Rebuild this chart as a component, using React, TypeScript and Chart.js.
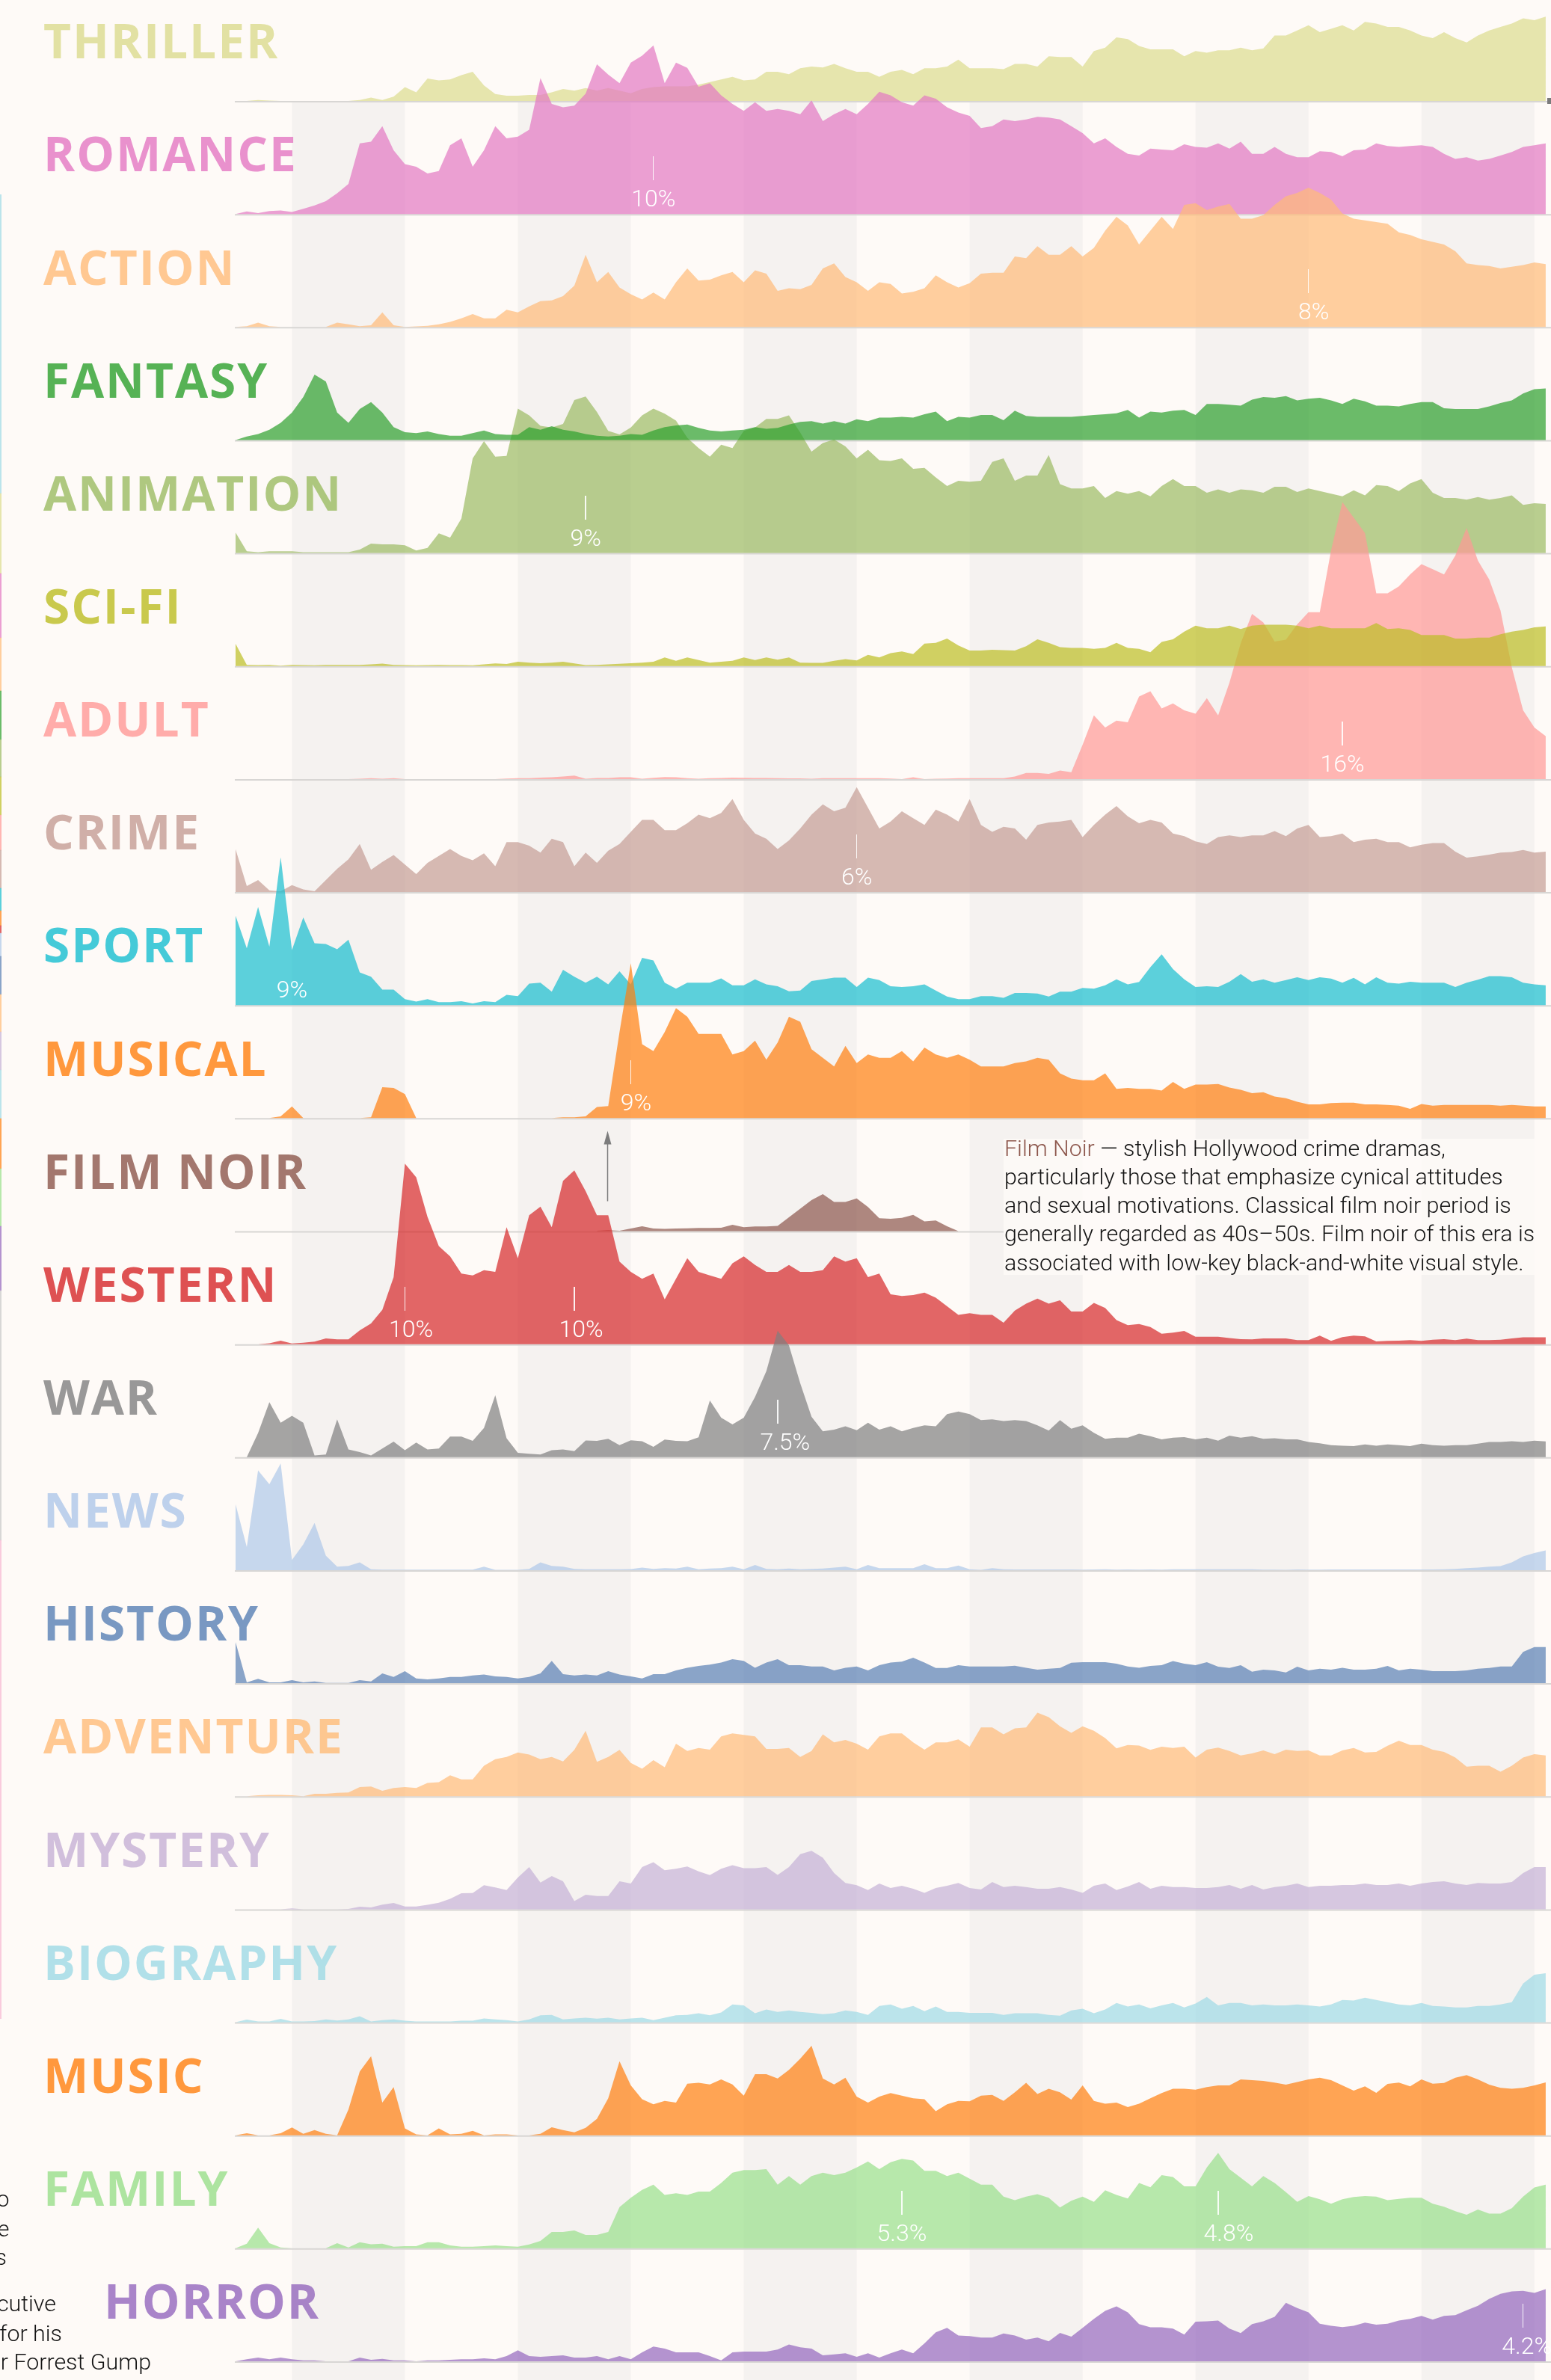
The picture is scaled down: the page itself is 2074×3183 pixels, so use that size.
import React, { useEffect, useRef, useState } from "react";
import { Chart, registerables } from "chart.js";

Chart.register(...registerables);

// ---------------- data ----------------
const FIRST_YEAR = 1895;
const NOIR_FIRST_YEAR = 1927;
const DECADE_BANDS = [1900, 1920, 1940, 1960, 1980, 2000];

const GENRES = [
  "THRILLER", "ROMANCE", "ACTION", "FANTASY", "ANIMATION", "SCI-FI", "ADULT",
  "CRIME", "SPORT", "MUSICAL", "FILM NOIR", "WESTERN", "WAR", "NEWS", "HISTORY",
  "ADVENTURE", "MYSTERY", "BIOGRAPHY", "MUSIC", "FAMILY", "HORROR",
];

const GENRE_COLORS = [
  "#dbdb8d", "#e377c2", "#ffbb78", "#2ca02c", "#9bbb62", "#bcbd22", "#ff9896",
  "#c49c94", "#17becf", "#ff7f0e", "#8c564b", "#d62728", "#7f7f7f", "#aec7e8",
  "#587fb4", "#ffbb78", "#c5b0d5", "#9edae5", "#ff7f0e", "#98df8a", "#9467bd",
];

// share of films per year, %, 1895..2011
const THRILLER = [
  0, 0, 0.05, 0.02, 0, 0, 0, 0, 0, 0,
  0, 0.05, 0.2, 0.05, 0.25, 0.8, 0.5, 1.3, 1.2, 1.25,
  1.5, 1.7, 0.9, 0.4, 0.3, 0.3, 0.35, 0.35, 0.5, 0.7,
  0.6, 0.75, 0.6, 0.75, 0.6, 0.45, 0.7, 0.8, 0.85, 0.85,
  0.85, 0.95, 1.1, 1.25, 1.4, 1.2, 1.25, 1.7, 1.7, 1.55,
  1.9, 2.0, 1.95, 2.15, 1.9, 1.7, 1.7, 1.4, 1.7, 1.8,
  1.55, 1.9, 1.9, 2.0, 2.4, 1.9, 1.9, 1.9, 1.85, 2.15,
  2.15, 2.0, 2.6, 2.55, 2.55, 2.0, 2.9, 3.1, 3.7, 3.6,
  3.2, 3.0, 3.0, 3.0, 2.6, 2.9, 2.8, 2.95, 2.95, 3.1,
  2.95, 3.05, 3.8, 3.8, 4.1, 4.4, 4.0, 4.2, 4.4, 4.1,
  4.6, 4.5, 4.3, 4.3, 4.1, 3.8, 3.65, 4.0, 3.65, 3.4,
  3.8, 4.1, 4.3, 4.5, 4.8, 4.7, 4.9,
];
const ROMANCE = [
  0, 0.15, 0.05, 0.17, 0.2, 0.12, 0.3, 0.5, 0.75, 1.2,
  1.75, 4.1, 4.2, 5.1, 3.7, 2.9, 2.75, 2.35, 2.5, 4.0,
  4.4, 2.75, 3.7, 5.1, 4.4, 4.5, 4.9, 7.9, 6.4, 6.2,
  6.3, 7.0, 8.7, 8.1, 7.6, 8.8, 9.2, 9.8, 7.6, 8.8,
  8.5, 7.4, 7.6, 6.9, 6.4, 6.0, 6.5, 6.0, 6.1, 6.0,
  5.8, 6.6, 5.4, 5.8, 6.1, 5.8, 6.4, 7.1, 6.9, 6.5,
  6.3, 6.9, 6.7, 6.2, 5.9, 5.7, 5.0, 5.1, 5.5, 5.4,
  5.5, 5.65, 5.6, 5.5, 5.1, 4.7, 4.1, 4.4, 3.9, 3.5,
  3.4, 3.8, 3.75, 3.7, 4.05, 3.9, 3.85, 4.1, 3.8, 4.2,
  3.5, 3.5, 3.9, 3.5, 3.3, 3.3, 3.65, 3.6, 3.35, 3.7,
  3.75, 4.1, 3.95, 3.9, 3.95, 4.0, 3.9, 3.5, 3.2, 3.3,
  3.1, 3.2, 3.4, 3.6, 3.9, 4.0, 4.1,
];
const ACTION = [
  0, 0.05, 0.25, 0.05, 0, 0, 0, 0, 0, 0.25,
  0.15, 0.05, 0.1, 0.85, 0.1, 0, 0.03, 0.07, 0.15, 0.3,
  0.5, 0.75, 0.5, 0.5, 1.0, 0.85, 1.2, 1.5, 1.55, 1.8,
  2.4, 4.2, 2.6, 3.2, 2.3, 1.9, 1.6, 2.0, 1.6, 2.6,
  3.4, 2.7, 2.75, 3.0, 3.2, 2.6, 3.3, 3.1, 2.1, 2.25,
  2.2, 2.45, 3.4, 3.7, 2.9, 2.6, 2.1, 2.6, 2.5, 1.95,
  2.05, 2.25, 3.0, 2.6, 2.3, 2.55, 3.1, 3.15, 3.15, 4.1,
  4.0, 4.7, 4.2, 4.2, 4.7, 4.1, 4.6, 5.6, 6.4, 5.9,
  4.8, 5.6, 6.4, 5.7, 7.1, 7.2, 6.8, 7.0, 7.15, 6.3,
  6.3, 6.5, 7.1, 7.6, 7.8, 8.1, 7.8, 7.4, 6.6, 6.3,
  6.2, 6.1, 6.0, 5.5, 5.35, 5.1, 4.95, 4.8, 4.4, 3.7,
  3.6, 3.55, 3.4, 3.5, 3.6, 3.75, 3.65,
];
const FANTASY = [
  0, 0.2, 0.35, 0.6, 1.0, 1.6, 2.5, 3.8, 3.4, 1.6,
  1.0, 1.8, 2.2, 1.6, 0.75, 0.45, 0.4, 0.5, 0.35, 0.25,
  0.25, 0.4, 0.55, 0.35, 0.3, 0.3, 0.75, 0.6, 0.8, 0.6,
  0.5, 0.35, 0.25, 0.2, 0.25, 0.35, 0.3, 0.55, 0.75, 0.85,
  0.9, 0.7, 0.55, 0.5, 0.55, 0.6, 0.75, 0.65, 0.7, 0.9,
  1.05, 1.1, 0.95, 1.1, 0.95, 1.2, 1.1, 1.3, 1.3, 1.35,
  1.3, 1.5, 1.65, 1.1, 1.35, 1.3, 1.45, 1.45, 1.15, 1.7,
  1.4, 1.35, 1.35, 1.35, 1.35, 1.4, 1.45, 1.5, 1.55, 1.75,
  1.3, 1.65, 1.6, 1.7, 1.75, 1.45, 2.1, 2.1, 2.05, 2.0,
  2.35, 2.5, 2.45, 2.55, 2.3, 2.4, 2.45, 2.3, 2.1, 2.4,
  2.25, 2.0, 2.0, 1.95, 2.1, 2.2, 2.2, 1.85, 1.8, 1.8,
  1.8, 1.95, 2.15, 2.3, 2.7, 2.95, 3.0,
];
const ANIMATION = [
  1.2, 0.1, 0.05, 0.1, 0.1, 0.1, 0.05, 0.05, 0.05, 0.05,
  0.05, 0.2, 0.55, 0.5, 0.5, 0.45, 0.15, 0.3, 1.15, 0.9,
  2.0, 5.5, 6.5, 5.6, 5.65, 8.4, 8.0, 7.4, 7.3, 7.5,
  8.9, 9.1, 8.2, 7.1, 6.9, 7.3, 8.0, 8.4, 8.1, 7.7,
  6.7, 6.1, 5.6, 6.3, 6.1, 7.1, 7.3, 7.8, 7.8, 8.0,
  7.0, 5.9, 6.4, 6.6, 6.2, 5.5, 6.0, 5.4, 5.35, 5.5,
  4.9, 4.95, 4.4, 3.9, 4.2, 4.15, 4.2, 5.3, 5.5, 4.2,
  4.5, 4.5, 5.7, 4.0, 3.75, 3.75, 3.9, 3.2, 3.6, 3.45,
  3.6, 3.3, 3.9, 4.3, 3.9, 3.9, 3.5, 3.7, 3.5, 3.7,
  3.65, 3.5, 3.85, 3.85, 3.55, 3.75, 3.6, 3.45, 3.3, 3.65,
  3.35, 3.95, 3.9, 3.6, 4.05, 4.3, 3.5, 3.2, 3.2, 3.1,
  3.25, 3.1, 3.2, 3.35, 2.8, 2.9, 2.85,
];
const SCIFI = [
  1.3, 0.07, 0.05, 0.07, 0.02, 0.07, 0.05, 0.04, 0.07, 0.07,
  0.07, 0.07, 0.1, 0.14, 0.07, 0.05, 0.04, 0.05, 0.06, 0.05,
  0.05, 0.04, 0.1, 0.15, 0.12, 0.25, 0.2, 0.16, 0.2, 0.25,
  0.15, 0.05, 0.07, 0.1, 0.13, 0.16, 0.2, 0.25, 0.5, 0.3,
  0.5, 0.35, 0.2, 0.25, 0.3, 0.5, 0.35, 0.5, 0.37, 0.5,
  0.2, 0.18, 0.18, 0.3, 0.4, 0.33, 0.65, 0.5, 0.75, 0.85,
  0.7, 1.3, 1.35, 1.6, 1.2, 0.9, 0.9, 0.95, 0.92, 0.9,
  1.15, 1.55, 1.35, 1.1, 1.05, 1.05, 1.0, 1.05, 1.35, 1.05,
  1.0, 0.8, 1.4, 1.55, 2.0, 2.35, 2.2, 2.2, 2.35, 2.15,
  2.35, 2.4, 2.4, 2.4, 2.35, 2.2, 2.35, 2.2, 2.2, 2.2,
  2.2, 2.5, 2.15, 2.2, 2.1, 1.8, 1.8, 1.8, 1.6, 1.6,
  1.65, 1.65, 1.85, 2.0, 2.1, 2.25, 2.3,
];
const ADULT = [
  0, 0, 0, 0, 0, 0, 0, 0, 0, 0,
  0, 0.02, 0.05, 0.02, 0.05, 0, 0, 0, 0, 0,
  0, 0, 0, 0, 0.03, 0.05, 0.05, 0.08, 0.1, 0.15,
  0.2, 0.02, 0.06, 0.06, 0.1, 0.1, 0.02, 0.07, 0.12, 0.1,
  0.05, 0.02, 0.05, 0.06, 0.08, 0.07, 0.06, 0.06, 0.05, 0.04,
  0.04, 0.02, 0.05, 0.05, 0.05, 0.05, 0.05, 0.05, 0.03, 0,
  0.1, 0, 0.02, 0.03, 0.05, 0.05, 0.05, 0.05, 0.05, 0.15,
  0.35, 0.35, 0.3, 0.5, 0.4, 2.0, 3.7, 3.0, 3.4, 3.3,
  4.8, 5.1, 4.1, 4.4, 4.0, 3.8, 4.7, 3.7, 5.6, 7.9,
  9.6, 9.1, 8.0, 8.1, 9.0, 9.7, 9.7, 13.3, 16.1, 15.2,
  14.3, 10.8, 10.8, 11.2, 11.9, 12.5, 12.2, 11.9, 13.0, 14.6,
  12.7, 11.6, 9.8, 6.5, 4.0, 3.0, 2.5,
];
const CRIME = [
  2.5, 0.35, 0.7, 0.1, 0.05, 0.4, 0.15, 0.05, 0.7, 1.35,
  1.9, 2.8, 1.3, 1.75, 2.15, 1.6, 1.05, 1.7, 2.1, 2.5,
  2.1, 1.85, 2.25, 1.5, 2.9, 2.9, 2.7, 2.3, 3.1, 2.9,
  1.5, 2.3, 1.7, 2.4, 2.8, 3.5, 4.2, 4.2, 3.6, 3.6,
  4.0, 4.5, 4.3, 4.6, 5.4, 4.2, 3.4, 3.1, 2.5, 3.0,
  3.7, 4.5, 5.1, 4.7, 4.9, 6.1, 4.9, 3.7, 4.1, 4.7,
  4.3, 3.9, 4.8, 4.5, 4.1, 5.4, 3.9, 3.5, 3.8, 3.7,
  3.05, 3.9, 4.05, 4.1, 4.2, 3.2, 3.9, 4.5, 5.0, 4.4,
  4.0, 4.2, 4.05, 3.4, 3.25, 2.95, 2.8, 3.2, 3.3, 3.2,
  3.3, 3.3, 3.55, 3.25, 3.7, 3.9, 3.2, 3.25, 3.4, 2.9,
  3.05, 3.1, 2.9, 2.9, 2.6, 2.75, 2.85, 2.85, 2.35, 2.0,
  2.08, 2.18, 2.3, 2.33, 2.45, 2.3, 2.35,
];
const SPORT = [
  5.2, 3.3, 5.7, 3.4, 8.6, 3.2, 5.1, 3.6, 3.55, 3.25,
  3.8, 1.9, 1.65, 0.9, 0.9, 0.35, 0.2, 0.35, 0.17, 0.17,
  0.23, 0.1, 0.23, 0.17, 0.6, 0.52, 1.25, 1.3, 0.78, 2.05,
  1.65, 1.3, 1.65, 1.2, 1.97, 1.2, 2.75, 2.6, 1.3, 0.95,
  1.3, 1.3, 1.3, 1.55, 1.15, 1.15, 1.5, 1.2, 1.1, 0.8,
  0.85, 1.4, 1.5, 1.6, 1.6, 1.05, 1.6, 1.45, 1.1, 1.05,
  1.1, 1.2, 0.85, 0.5, 0.35, 0.35, 0.52, 0.52, 0.42, 0.7,
  0.7, 0.67, 0.5, 0.78, 0.78, 1.0, 0.95, 1.15, 1.5, 1.2,
  1.35, 2.2, 2.95, 2.1, 1.5, 1.05, 1.1, 1.05, 1.36, 1.8,
  1.36, 1.5, 1.3, 1.45, 1.62, 1.45, 1.62, 1.54, 1.3, 1.58,
  1.2, 1.62, 1.3, 1.25, 1.36, 1.3, 1.3, 1.3, 1.05, 1.3,
  1.48, 1.68, 1.68, 1.62, 1.3, 1.2, 1.15,
];
const MUSICAL = [
  0, 0, 0, 0, 0.1, 0.68, 0, 0, 0, 0,
  0, 0, 0.05, 1.8, 1.75, 1.4, 0, 0, 0, 0,
  0, 0, 0, 0, 0, 0, 0, 0, 0, 0.05,
  0.05, 0.1, 0.65, 0.7, 5.0, 9.0, 4.3, 3.9, 5.0, 6.4,
  5.9, 4.9, 4.9, 4.9, 3.7, 3.9, 4.5, 3.4, 4.4, 5.9,
  5.6, 4.0, 3.5, 3.0, 4.2, 3.2, 3.7, 3.5, 3.5, 3.9,
  3.3, 4.1, 3.7, 3.5, 3.7, 3.4, 3.0, 3.0, 3.0, 3.2,
  3.3, 3.5, 3.4, 2.6, 2.3, 2.2, 2.2, 2.6, 1.7, 1.75,
  1.7, 1.7, 1.6, 2.1, 1.7, 1.95, 1.95, 1.98, 1.78, 1.65,
  1.45, 1.5, 1.25, 1.16, 0.95, 0.8, 0.8, 0.87, 0.9, 0.9,
  0.8, 0.8, 0.77, 0.72, 0.54, 0.82, 0.72, 0.77, 0.77, 0.77,
  0.77, 0.77, 0.72, 0.77, 0.72, 0.68, 0.68,
];
// film noir, 1927..1959
const FILM_NOIR = [
  0.02, 0.05, 0.02, 0.15, 0.28, 0.15, 0.13, 0.15, 0.16, 0.19,
  0.19, 0.2, 0.37, 0.23, 0.27, 0.27, 0.3, 0.8, 1.3, 1.8,
  2.15, 1.7, 1.7, 1.9, 1.4, 0.75, 0.72, 0.77, 0.95, 0.56,
  0.62, 0.28, 0,
];
const WESTERN = [
  0, 0, 0, 0.05, 0.2, 0.04, 0.08, 0.15, 0.33, 0.28,
  0.28, 0.8, 1.2, 2.0, 3.9, 10.5, 9.7, 7.4, 5.7, 5.1,
  4.1, 4.0, 4.3, 4.2, 6.8, 5.0, 7.5, 8.0, 6.8, 9.5,
  10.1, 8.9, 7.5, 7.5, 4.8, 4.2, 3.8, 4.1, 2.6, 3.8,
  5.0, 4.2, 4.0, 3.8, 4.7, 5.1, 4.6, 4.2, 4.2, 4.6,
  4.2, 4.2, 4.3, 5.1, 4.8, 5.0, 3.9, 4.1, 2.9, 2.8,
  2.85, 3.0, 2.7, 2.2, 1.7, 1.8, 1.7, 1.7, 1.25, 1.95,
  2.35, 2.65, 2.35, 2.55, 1.9, 1.9, 2.4, 2.1, 1.4, 1.1,
  1.17, 1.0, 0.6, 0.67, 0.77, 0.43, 0.43, 0.43, 0.35, 0.29,
  0.28, 0.33, 0.33, 0.33, 0.23, 0.23, 0.5, 0.19, 0.41, 0.5,
  0.45, 0.16, 0.19, 0.2, 0.23, 0.19, 0.26, 0.29, 0.23, 0.32,
  0.23, 0.23, 0.26, 0.33, 0.4, 0.4, 0.4,
];
const WAR = [
  0, 0, 1.4, 3.2, 2.0, 2.4, 2.0, 0.1, 0.15, 2.2,
  0.45, 0.3, 0.1, 0.5, 0.9, 0.4, 0.85, 0.45, 0.5, 1.2,
  1.2, 0.95, 1.7, 3.6, 1.1, 0.25, 0.2, 0.15, 0.4, 0.45,
  0.35, 0.97, 0.95, 1.07, 0.7, 0.98, 0.93, 0.6, 1.02, 0.95,
  0.93, 1.15, 3.3, 2.3, 1.9, 2.3, 3.5, 5.0, 7.35, 6.5,
  4.3, 2.35, 1.5, 1.6, 1.8, 1.57, 2.0, 1.6, 1.8, 1.5,
  1.7, 1.85, 1.8, 2.5, 2.65, 2.5, 2.15, 2.2, 2.1, 2.15,
  2.1, 1.85, 1.55, 2.15, 1.65, 1.85, 1.42, 1.07, 1.13, 1.13,
  1.36, 1.22, 1.03, 1.13, 1.17, 1.03, 1.13, 0.96, 1.25, 1.13,
  1.22, 1.07, 1.1, 1.03, 1.03, 0.88, 0.81, 0.7, 0.67, 0.64,
  0.74, 0.67, 0.74, 0.7, 0.64, 0.78, 0.7, 0.67, 0.7, 0.7,
  0.78, 0.88, 0.88, 0.93, 0.88, 0.96, 0.91,
];
const NEWS = [
  3.85, 1.35, 5.8, 5.0, 6.2, 0.6, 1.5, 2.75, 0.85, 0.2,
  0.25, 0.45, 0.05, 0.03, 0.03, 0.03, 0.03, 0.03, 0.03, 0.03,
  0.03, 0.03, 0.2, 0.02, 0.02, 0.02, 0.07, 0.45, 0.25, 0.2,
  0.07, 0.05, 0.05, 0.05, 0.05, 0.06, 0.15, 0.07, 0.12, 0.1,
  0.2, 0.05, 0.1, 0.12, 0.2, 0.05, 0.3, 0.07, 0.05, 0.1,
  0.05, 0.07, 0.1, 0.15, 0.2, 0.05, 0.3, 0.12, 0.12, 0.12,
  0.12, 0.35, 0.12, 0.12, 0.27, 0.05, 0.02, 0.12, 0.05, 0.04,
  0.04, 0.04, 0.04, 0.04, 0.04, 0.03, 0.04, 0.05, 0.03, 0.04,
  0.03, 0.04, 0.03, 0.05, 0.05, 0.05, 0.05, 0.05, 0.05, 0.05,
  0.05, 0.03, 0.03, 0.02, 0.04, 0.03, 0.03, 0.04, 0.04, 0.04,
  0.04, 0.04, 0.04, 0.04, 0.04, 0.04, 0.04, 0.05, 0.07, 0.12,
  0.15, 0.2, 0.24, 0.45, 0.8, 1.0, 1.15,
];
const HISTORY = [
  2.4, 0.05, 0.25, 0.05, 0.05, 0.18, 0.05, 0.1, 0.02, 0.02,
  0.02, 0.18, 0.1, 0.57, 0.36, 0.7, 0.28, 0.22, 0.28, 0.36,
  0.36, 0.45, 0.5, 0.4, 0.36, 0.28, 0.36, 0.57, 1.3, 0.53,
  0.45, 0.5, 0.45, 0.7, 0.5, 0.4, 0.28, 0.53, 0.53, 0.74,
  0.9, 1.0, 1.08, 1.2, 1.4, 1.3, 0.9, 1.2, 1.4, 1.05,
  1.05, 0.97, 0.97, 0.74, 0.9, 0.97, 0.74, 1.05, 1.2, 1.25,
  1.48, 1.2, 0.88, 0.88, 1.05, 0.97, 0.97, 0.97, 0.97, 1.02,
  0.9, 0.79, 0.84, 0.88, 1.19, 1.22, 1.22, 1.22, 1.13, 0.97,
  0.9, 1.0, 1.05, 1.29, 1.13, 1.05, 1.22, 0.96, 0.88, 1.05,
  0.67, 0.79, 0.74, 0.62, 0.96, 0.74, 0.84, 0.79, 0.9, 0.79,
  0.79, 0.84, 1.0, 0.74, 0.84, 0.79, 0.7, 0.7, 0.7, 0.74,
  0.84, 0.88, 0.97, 0.97, 1.82, 2.1, 2.1,
];
const ADVENTURE = [
  0, 0, 0.05, 0.08, 0.08, 0.05, 0, 0.14, 0.14, 0.2,
  0.22, 0.53, 0.57, 0.31, 0.48, 0.53, 0.48, 0.77, 0.82, 1.22,
  0.98, 0.98, 1.77, 2.15, 2.28, 2.54, 2.42, 2.15, 2.28, 2.02,
  2.7, 3.8, 2.0, 2.28, 2.7, 1.94, 1.6, 2.1, 1.69, 3.05,
  2.63, 2.8, 2.71, 3.48, 3.65, 3.57, 3.48, 2.75, 2.75, 2.8,
  2.28, 2.63, 3.6, 3.13, 3.27, 3.05, 2.71, 3.48, 3.65, 3.65,
  3.13, 2.71, 3.13, 3.13, 3.3, 2.88, 4.0, 4.0, 3.6, 3.95,
  4.0, 4.86, 4.6, 4.07, 3.68, 4.07, 3.8, 3.38, 2.78, 2.98,
  2.95, 2.7, 2.88, 2.8, 2.88, 2.25, 2.71, 2.83, 2.63, 2.37,
  2.49, 2.66, 2.45, 2.71, 2.63, 2.66, 2.37, 2.37, 2.66, 2.8,
  2.54, 2.58, 2.94, 3.23, 2.98, 2.98, 2.71, 2.58, 2.25, 1.72,
  1.77, 1.77, 1.42, 1.77, 2.25, 2.45, 2.37,
];
const MYSTERY = [
  0, 0, 0, 0, 0, 0.05, 0, 0, 0, 0,
  0.02, 0.15, 0.1, 0.27, 0.37, 0.16, 0.16, 0.26, 0.38, 0.6,
  0.93, 0.94, 1.4, 1.27, 1.12, 1.84, 2.45, 1.55, 1.93, 1.63,
  0.47, 0.84, 0.77, 0.77, 1.63, 1.5, 2.45, 2.73, 2.27, 2.35,
  2.49, 2.2, 1.98, 2.35, 2.56, 2.39, 2.39, 2.45, 2.0, 2.45,
  3.2, 3.4, 3.0, 2.1, 1.53, 1.4, 1.12, 1.5, 1.24, 1.36,
  1.19, 0.95, 1.24, 1.36, 1.53, 1.24, 1.15, 1.58, 1.29, 1.36,
  1.29, 1.19, 1.19, 1.29, 1.15, 0.95, 1.36, 1.5, 1.12, 1.32,
  1.58, 1.19, 1.36, 1.29, 1.29, 1.24, 1.24, 1.29, 1.41, 1.19,
  1.41, 1.15, 1.29, 1.36, 1.5, 1.29, 1.36, 1.36, 1.41, 1.41,
  1.5, 1.41, 1.41, 1.5, 1.36, 1.5, 1.58, 1.63, 1.5, 1.41,
  1.53, 1.5, 1.5, 1.58, 2.1, 2.45, 2.45,
];
const BIOGRAPHY = [
  0, 0.15, 0.05, 0.05, 0.2, 0.05, 0.05, 0.07, 0.17, 0.1,
  0.17, 0.35, 0.05, 0.12, 0.17, 0.09, 0.05, 0.05, 0.05, 0.05,
  0.09, 0.09, 0.22, 0.17, 0.12, 0.05, 0.17, 0.4, 0.43, 0.17,
  0.22, 0.26, 0.21, 0.26, 0.17, 0.22, 0.26, 0.12, 0.26, 0.4,
  0.43, 0.52, 0.4, 0.57, 1.04, 0.98, 0.52, 0.74, 0.6, 0.69,
  0.6, 0.55, 0.47, 0.52, 0.69, 0.6, 0.43, 0.95, 1.04, 0.78,
  0.95, 0.64, 0.92, 0.6, 0.6, 0.55, 0.55, 0.55, 0.43, 0.52,
  0.52, 0.52, 0.43, 0.38, 0.69, 0.78, 0.52, 0.74, 1.12, 0.92,
  1.04, 0.81, 0.98, 1.12, 0.86, 1.09, 1.47, 0.98, 1.12, 1.12,
  0.98, 1.04, 0.98, 0.98, 1.04, 0.98, 0.92, 1.04, 1.3, 1.26,
  1.43, 1.3, 1.16, 1.04, 0.98, 1.12, 0.95, 0.92, 0.86, 0.86,
  0.95, 0.95, 1.04, 1.16, 2.25, 2.76, 2.85,
];
const MUSIC = [
  0, 0.12, 0, 0, 0.12, 0.45, 0.09, 0.3, 0.09, 0,
  1.5, 3.7, 4.6, 1.9, 2.8, 0.4, 0.05, 0, 0.4, 0.05,
  0.09, 0.26, 0, 0.05, 0.05, 0, 0, 0.09, 0.47, 0.3,
  0.17, 0.43, 0.95, 2.15, 4.3, 2.9, 2.1, 1.8, 2.0, 1.9,
  3.0, 3.05, 2.95, 3.25, 2.95, 2.3, 3.55, 3.55, 3.3, 3.8,
  4.45, 5.2, 3.3, 2.95, 3.35, 2.25, 1.9, 2.25, 2.45, 2.3,
  2.15, 2.1, 1.4, 1.8, 2.0, 1.98, 2.3, 2.35, 2.0, 2.5,
  3.05, 2.4, 2.7, 2.5, 2.07, 2.9, 2.0, 1.83, 1.9, 1.64,
  1.83, 2.15, 2.45, 2.7, 2.7, 2.65, 2.8, 2.9, 2.9, 3.25,
  3.2, 3.16, 3.06, 2.94, 3.1, 3.25, 3.35, 3.2, 2.9, 2.6,
  2.85, 2.47, 2.99, 3.06, 2.85, 3.25, 3.0, 3.04, 3.35, 3.5,
  3.25, 2.94, 2.76, 2.7, 2.76, 2.9, 3.07,
];
const FAMILY = [
  0, 0.26, 1.2, 0.3, 0.05, 0, 0, 0, 0, 0.3,
  0.05, 0.35, 0.23, 0.26, 0.09, 0.12, 0.12, 0.35, 0.35, 0.17,
  0.09, 0.09, 0.12, 0.17, 0.12, 0.09, 0.22, 0.43, 0.95, 0.95,
  1.04, 0.78, 0.78, 0.95, 2.4, 2.94, 3.4, 3.7, 3.1, 3.2,
  3.1, 3.3, 3.3, 3.8, 4.4, 4.55, 4.55, 4.6, 3.7, 4.2,
  3.7, 4.2, 4.4, 4.25, 4.4, 4.7, 5.05, 4.6, 5.0, 5.2,
  5.1, 4.5, 4.5, 4.2, 4.4, 4.05, 3.7, 3.7, 3.0, 2.8,
  3.0, 3.15, 2.94, 2.37, 2.77, 3.0, 2.7, 3.37, 3.1, 2.9,
  3.8, 3.55, 4.25, 4.15, 3.6, 3.6, 4.7, 5.55, 4.6, 4.1,
  3.6, 4.2, 3.8, 3.27, 2.7, 3.04, 2.85, 2.59, 2.85, 2.98,
  3.04, 3.0, 2.8, 2.87, 2.94, 2.94, 2.59, 2.42, 2.16, 1.95,
  2.25, 2.02, 2.02, 2.33, 3.0, 3.54, 3.7,
];
const HORROR = [
  0, 0.12, 0.22, 0.12, 0.22, 0.12, 0.05, 0.05, 0, 0,
  0, 0.22, 0.09, 0.14, 0.05, 0.05, 0, 0.05, 0.05, 0.09,
  0.12, 0.12, 0.17, 0.12, 0.3, 0.64, 0.3, 0.26, 0.3, 0.35,
  0.22, 0.22, 0.3, 0.12, 0.3, 0.12, 0.52, 0.86, 0.74, 0.52,
  0.52, 0.52, 0.3, 0.05, 0.52, 0.57, 0.57, 0.57, 0.69, 0.98,
  0.81, 0.74, 0.35, 0.4, 0.47, 0.26, 0.47, 0.22, 0.47, 0.69,
  0.47, 1.04, 1.68, 1.95, 1.5, 1.47, 1.38, 1.38, 1.62, 1.5,
  1.26, 1.38, 1.16, 1.65, 1.43, 1.95, 2.47, 2.94, 3.2, 2.85,
  2.16, 1.98, 1.98, 1.9, 1.55, 2.3, 2.33, 2.37, 1.9, 1.64,
  2.16, 2.33, 2.59, 3.4, 3.1, 2.85, 2.19, 2.07, 1.99, 2.07,
  2.25, 2.13, 2.19, 2.37, 2.47, 2.64, 2.42, 2.64, 2.68, 2.97,
  3.23, 3.63, 3.92, 4.06, 4.1, 3.98, 4.2,
];

const SERIES = [
  THRILLER, ROMANCE, ACTION, FANTASY, ANIMATION, SCIFI, ADULT, CRIME, SPORT,
  MUSICAL, FILM_NOIR, WESTERN, WAR, NEWS, HISTORY, ADVENTURE, MYSTERY,
  BIOGRAPHY, MUSIC, FAMILY, HORROR,
];
const SERIES_START = GENRES.map((g) => (g === "FILM NOIR" ? NOIR_FIRST_YEAR : FIRST_YEAR));

// value callouts: genre row, year, text, tick?, horizontal text nudge
const CALLOUT_ROW = [1, 2, 4, 6, 7, 8, 9, 11, 11, 12, 19, 19, 20];
const CALLOUT_YEAR = [1932, 1990, 1926, 1993, 1950, 1900, 1930, 1910, 1925, 1943, 1954, 1982, 2009];
const CALLOUT_TEXT = ["10%", "8%", "9%", "16%", "6%", "9%", "9%", "10%", "10%", "7.5%", "5.3%", "4.8%", "4.2%"];
const CALLOUT_TICK = [true, true, true, true, true, false, true, true, true, true, true, true, true];
const CALLOUT_DX = [0, 7, 0, 0, 0, 0, 7, 8, 9, 10, 0, 14, 5];

// the cut-off stacked bar of the neighbouring panel (top -> bottom), share units
const SIDE_BAR_VALUES = [400, 107, 86, 71, 65, 50, 51, 47, 51, 30, 20, 10, 31, 51, 50, 51, 65, 67, 77, 86, 334, 640];
const SIDE_BAR_COLORS = [
  "#9edae5", "#dbdb8d", "#e377c2", "#ffbb78", "#2ca02c", "#9bbb62", "#bcbd22", "#ff9896",
  "#c49c94", "#17becf", "#ff7f0e", "#d62728", "#aec7e8", "#587fb4", "#ffbb78", "#c5b0d5",
  "#9edae5", "#ff7f0e", "#98df8a", "#9467bd", "#c7c7c7", "#f7b6d2",
];

const NOTE_LINES = [
  "stylish Hollywood crime dramas,",
  "particularly those that emphasize cynical attitudes",
  "and sexual motivations. Classical film noir period is",
  "generally regarded as 40s\u201350s. Film noir of this era is",
  "associated with low-key black-and-white visual style.",
];
const ARROW_YEAR = 1927.9;

const SIDE_LINES = ["to", "the", "films", "executive", "Oscar for his", "Best Actor for Forrest Gump"];

// ---------------- layout / style ----------------
const W = 2074;
const H = 3183;
const PLOT_LEFT = 314;
const X_MIN = 1894.94;
const X_MAX = 2011.47;
const ROW_BASE0 = 135;
const ROW_STEP = 151.15;
const PX_PER_PCT = 23;
const NOTE_LEFT = 1342;
const BG = "#fefaf7";
const BAND = "#f5f2f0";
const SIDE_BAR_TOP = 260;
const SIDE_BAR_W = 2;
// bottom -> top drawing sequence
const DRAW_SEQ = [0, 1, 2, 4, 3, 6, 5, 7, 8, 9, 10, 11, 12, 13, 14, 15, 16, 17, 18, 19, 20];

function rgba(hex: string, a: number) {
  const n = parseInt(hex.slice(1), 16);
  return `rgba(${(n >> 16) & 255},${(n >> 8) & 255},${n & 255},${a})`;
}

type Layout = {
  bases: number[];
  callouts: { x: number; base: number; text: string; tick: boolean; dx: number }[];
};

const SIDE_TOTAL = SIDE_BAR_VALUES.reduce((a, b) => a + b, 0);

export default function App() {
  const canvasRef = useRef<HTMLCanvasElement | null>(null);
  const sideRef = useRef<HTMLCanvasElement | null>(null);
  const [layout, setLayout] = useState<Layout | null>(null);

  useEffect(() => {
    const canvas = canvasRef.current;
    const sideCanvas = sideRef.current;
    if (!canvas || !sideCanvas) return;
    const scales: any = {
      x: { type: "linear", min: X_MIN, max: X_MAX, display: false },
    };
    GENRES.forEach((_, i) => {
      const b = ROW_BASE0 + ROW_STEP * i;
      scales["y" + i] = {
        type: "linear",
        display: false,
        min: -(H - b) / PX_PER_PCT,
        max: b / PX_PER_PCT,
      };
    });

    const datasets = SERIES.map((vals, i) => ({
      label: GENRES[i],
      data: vals.map((v, k) => ({ x: SERIES_START[i] + k, y: v })),
      xAxisID: "x",
      yAxisID: "y" + i,
      fill: "origin",
      backgroundColor: rgba(GENRE_COLORS[i], 0.7),
      borderColor: "rgba(0,0,0,0)",
      borderWidth: 0,
      pointRadius: 0,
      pointHoverRadius: 0,
      tension: 0,
      order: 100 - DRAW_SEQ.indexOf(i),
    }));

    const decor = {
      id: "decor",
      beforeDraw(chart: any) {
        const { ctx, chartArea } = chart;
        const xs = chart.scales.x;
        const top = chart.scales.y0.getPixelForValue(0);
        ctx.save();
        ctx.fillStyle = BAND;
        DECADE_BANDS.forEach((d) => {
          const x1 = xs.getPixelForValue(d);
          const x2 = xs.getPixelForValue(d + 10);
          ctx.fillRect(x1, top, x2 - x1, chartArea.bottom - top);
        });
        ctx.strokeStyle = "#d8d6d4";
        ctx.lineWidth = 2;
        GENRES.forEach((g, i) => {
          const y = chart.scales["y" + i].getPixelForValue(0) + 1;
          ctx.beginPath();
          ctx.moveTo(chartArea.left, y);
          ctx.lineTo(g === "FILM NOIR" ? NOTE_LEFT : chartArea.right, y);
          ctx.stroke();
        });
        ctx.restore();
      },
      afterDatasetsDraw(chart: any) {
        const { ctx, chartArea } = chart;
        const xs = chart.scales.x;
        const noirIdx = GENRES.indexOf("FILM NOIR");
        const nb = chart.scales["y" + noirIdx].getPixelForValue(0);
        const ax = Math.round(xs.getPixelForValue(ARROW_YEAR)) + 0.5;
        ctx.save();
        ctx.strokeStyle = "#7d7d7d";
        ctx.fillStyle = "#7d7d7d";
        ctx.lineWidth = 1.5;
        ctx.beginPath();
        ctx.moveTo(ax, nb - 40);
        ctx.lineTo(ax, nb - 120);
        ctx.stroke();
        ctx.beginPath();
        ctx.moveTo(ax, nb - 134);
        ctx.lineTo(ax - 5, nb - 116);
        ctx.lineTo(ax + 5, nb - 116);
        ctx.closePath();
        ctx.fill();
        const t0 = chart.scales.y0.getPixelForValue(0);
        ctx.fillStyle = "#7b7b7b";
        ctx.fillRect(chartArea.right - 5, t0 - 4, 5, 8);
        ctx.restore();
      },
    };

    const chart = new Chart(canvas, {
      type: "line",
      data: { datasets } as any,
      options: {
        responsive: false,
        animation: false,
        events: [],
        layout: { padding: { left: PLOT_LEFT, right: 0, top: 0, bottom: 0 } },
        scales,
        plugins: { legend: { display: false }, tooltip: { enabled: false } },
      } as any,
      plugins: [decor],
    });

    // neighbouring panel's stacked bar, cut off at the page edge
    const sideDatasets = SIDE_BAR_VALUES.map((v, k) => ({
      data: [v],
      backgroundColor: rgba(SIDE_BAR_COLORS[k], 0.7),
      borderWidth: 0,
      barPercentage: 1,
      categoryPercentage: 1,
      stack: "s",
    })).reverse();
    const side = new Chart(sideCanvas, {
      type: "bar",
      data: { labels: [""], datasets: sideDatasets } as any,
      options: {
        responsive: false,
        animation: false,
        events: [],
        layout: { padding: 0 },
        scales: {
          x: { display: false, stacked: true },
          y: { display: false, stacked: true, min: 0, max: SIDE_TOTAL },
        },
        plugins: { legend: { display: false }, tooltip: { enabled: false } },
      } as any,
    });

    const bases = GENRES.map((_, i) => (chart.scales as any)["y" + i].getPixelForValue(0));
    const callouts = CALLOUT_ROW.map((r, k) => ({
      x: (chart.scales as any).x.getPixelForValue(CALLOUT_YEAR[k]),
      base: bases[r],
      text: CALLOUT_TEXT[k],
      tick: CALLOUT_TICK[k],
      dx: CALLOUT_DX[k],
    }));
    setLayout({ bases, callouts });

    return () => {
      chart.destroy();
      side.destroy();
    };
  }, []);

  const noirBase = layout ? layout.bases[GENRES.indexOf("FILM NOIR")] : 0;
  const sideRights = [12.5, 12.5, 9, 75, 83, 202];
  const sideTops = [2922, 2962, 3000, 3062, 3102, 3140];

  return (
    <div
      style={{
        position: "absolute",
        left: 0,
        top: 0,
        width: W,
        height: H,
        overflow: "hidden",
        background: BG,
      }}
    >
      <canvas
        ref={canvasRef}
        width={W}
        height={H}
        style={{ position: "absolute", left: 0, top: 0, width: W, height: H }}
      />
      <canvas
        ref={sideRef}
        width={SIDE_BAR_W}
        height={SIDE_TOTAL}
        style={{
          position: "absolute",
          left: 0,
          top: SIDE_BAR_TOP,
          width: SIDE_BAR_W,
          height: SIDE_TOTAL,
        }}
      />
      {layout &&
        GENRES.map((g, i) => (
          <div
            key={g}
            style={{
              position: "absolute",
              left: g === "HORROR" ? 139 : 58,
              top: layout.bases[i] - 112.8,
              font: '700 64px "Open Sans", "Noto Sans", sans-serif',
              lineHeight: "64px",
              letterSpacing: "1.9px",
              color: rgba(GENRE_COLORS[i], 0.8),
              whiteSpace: "nowrap",
            }}
          >
            {g}
          </div>
        ))}
      {layout &&
        layout.callouts.map((c, k) => (
          <React.Fragment key={"c" + k}>
            {c.tick && (
              <div
                style={{
                  position: "absolute",
                  left: c.x - 0.75,
                  top: c.base - 77,
                  width: 1.5,
                  height: 32,
                  background: "rgba(255,255,255,0.9)",
                }}
              />
            )}
            <div
              style={{
                position: "absolute",
                left: c.x + c.dx,
                top: c.base - 37,
                transform: "translateX(-50%)",
                font: '300 32px Roboto, "Open Sans", sans-serif',
                lineHeight: "32px",
                color: "#ffffff",
                whiteSpace: "nowrap",
              }}
            >
              {c.text}
            </div>
          </React.Fragment>
        ))}
      {layout && (
        <>
          <div
            style={{
              position: "absolute",
              left: NOTE_LEFT,
              top: noirBase - 124,
              width: 711,
              height: 182,
              background: "rgba(254,250,247,0.8)",
            }}
          />
          <div
            style={{
              position: "absolute",
              left: NOTE_LEFT + 1,
              top: noirBase - 130,
              font: '300 30.4px Roboto, "Open Sans", sans-serif',
              lineHeight: "38.3px",
              color: "#141414",
              whiteSpace: "nowrap",
            }}
          >
            <span style={{ color: "#8c564b" }}>Film Noir</span>
            {" \u2014 " + NOTE_LINES[0]}
            {NOTE_LINES.slice(1).map((l) => (
              <div key={l}>{l}</div>
            ))}
          </div>
        </>
      )}
      {SIDE_LINES.map((t, k) => (
        <div
          key={t}
          style={{
            position: "absolute",
            left: sideRights[k],
            top: sideTops[k],
            transform: "translateX(-100%)",
            font: '300 30.4px Roboto, "Open Sans", sans-serif',
            lineHeight: "38px",
            color: "#141414",
            whiteSpace: "nowrap",
          }}
        >
          {t}
        </div>
      ))}
    </div>
  );
}
